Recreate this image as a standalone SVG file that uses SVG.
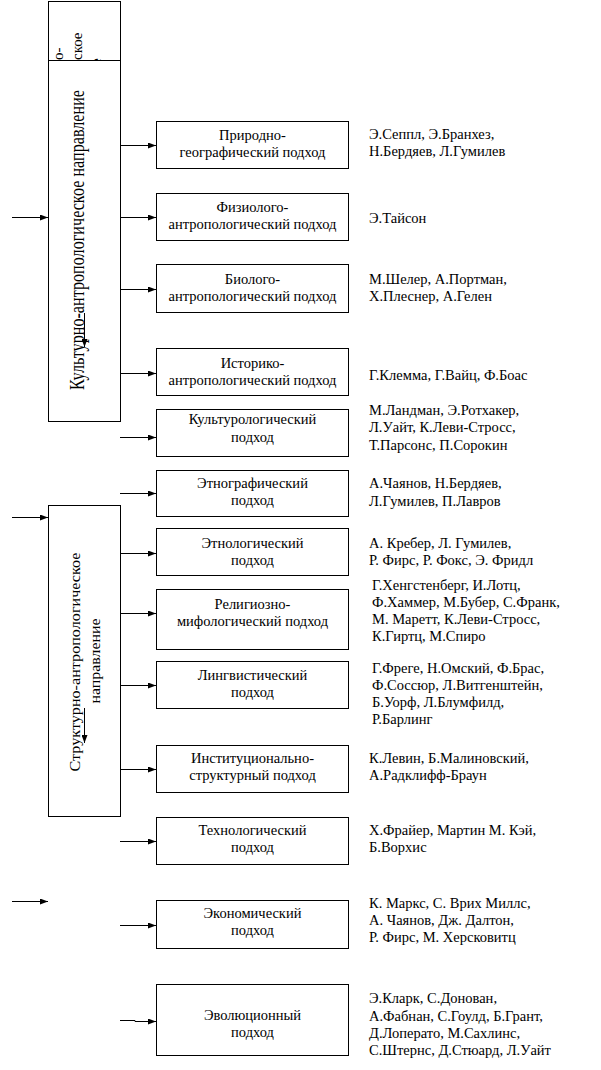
<svg xmlns="http://www.w3.org/2000/svg" width="601" height="1070" viewBox="0 0 601 1070">
<style>
.box{fill:#fff;stroke:#000;stroke-width:1}
.lbl{font-family:"Liberation Serif","DejaVu Serif",serif;font-size:14.5px;fill:#000;text-anchor:middle}
.au{font-family:"Liberation Serif","DejaVu Serif",serif;font-size:14.5px;fill:#000}
.vt{font-family:"Liberation Serif","DejaVu Serif",serif;fill:#000}
.con{stroke:#000;stroke-width:1;fill:none;marker-end:url(#ah)}
</style>
<defs>
<marker id="ah" markerWidth="8" markerHeight="6" refX="8" refY="3" orient="auto" markerUnits="userSpaceOnUse">
<path d="M0,0 L8,3 L0,6 z" fill="#000"/>
</marker>
<clipPath id="topclip"><rect x="49" y="0" width="71" height="60"/></clipPath>
</defs>
<rect width="601" height="1070" fill="#fff"/>

<g id="dir-cultural">
<rect class="box" x="48.5" y="1.5" width="72" height="420"/>
<line x1="48.5" y1="60.5" x2="120.5" y2="60.5" stroke="#000"/>
<g clip-path="url(#topclip)">
<text class="vt" font-size="15" transform="translate(63,60) rotate(-90)">о-</text>
<text class="vt" font-size="15" transform="translate(82,60) rotate(-90)">ское</text>
<text class="vt" font-size="15" transform="translate(101,65) rotate(-90)">е</text>
</g>
<text class="vt" font-size="20" text-anchor="middle" textLength="300" lengthAdjust="spacingAndGlyphs" transform="translate(83.5,240) rotate(-90)">Культурно-антропологическое направление</text>
</g>

<g id="dir-structural">
<rect class="box" x="48.5" y="505.5" width="72" height="311"/>
<text class="vt" font-size="15" text-anchor="middle" textLength="219" lengthAdjust="spacingAndGlyphs" transform="translate(80,662) rotate(-90)">Структурно-антропологическое</text>
<text class="vt" font-size="15" text-anchor="middle" textLength="85" lengthAdjust="spacingAndGlyphs" transform="translate(100,661) rotate(-90)">направление</text>
</g>

<g id="connectors">
<line class="con" x1="12" y1="217.5" x2="48" y2="217.5"/>
<line class="con" x1="12" y1="517.5" x2="48" y2="517.5"/>
<line class="con" x1="12" y1="901.5" x2="48" y2="901.5"/>
<line class="con" x1="121" y1="145.5" x2="156" y2="145.5"/>
<line class="con" x1="121" y1="217.5" x2="156" y2="217.5"/>
<line class="con" x1="121" y1="289.5" x2="156" y2="289.5"/>
<line class="con" x1="121" y1="373.5" x2="156" y2="373.5"/>
<line class="con" x1="120" y1="437.5" x2="156" y2="437.5"/>
<line class="con" x1="120" y1="493.5" x2="156" y2="493.5"/>
<line class="con" x1="121" y1="553.5" x2="156" y2="553.5"/>
<line class="con" x1="121" y1="613.5" x2="156" y2="613.5"/>
<line class="con" x1="121" y1="685.5" x2="156" y2="685.5"/>
<line class="con" x1="121" y1="769.5" x2="156" y2="769.5"/>
<line class="con" x1="120" y1="841.5" x2="156" y2="841.5"/>
<line class="con" x1="120" y1="925.5" x2="156" y2="925.5"/>
<polyline class="con" points="120,1020.5 135,1020.5 135,1021.5 156,1021.5"/>
<line class="con" x1="84.5" y1="313" x2="84.5" y2="347"/>
<line class="con" x1="84.5" y1="708" x2="84.5" y2="743"/>
</g>

<g id="n-prirodno">
<rect class="box" x="156.5" y="121.5" width="192" height="47"/>
<text class="lbl" x="252.5" y="140">Природно-</text>
<text class="lbl" x="252.5" y="157">географический подход</text>
<text class="au" x="369" y="139">Э.Сеппл, Э.Бранхез,</text>
<text class="au" x="369" y="156">Н.Бердяев, Л.Гумилев</text>
</g>
<g id="n-fiziologo">
<rect class="box" x="156.5" y="193.5" width="192" height="47"/>
<text class="lbl" x="252.5" y="212">Физиолого-</text>
<text class="lbl" x="252.5" y="229">антропологический подход</text>
<text class="au" x="369" y="223">Э.Тайсон</text>
</g>
<g id="n-biologo">
<rect class="box" x="156.5" y="264.5" width="192" height="48"/>
<text class="lbl" x="252.5" y="284">Биолого-</text>
<text class="lbl" x="252.5" y="301">антропологический подход</text>
<text class="au" x="369" y="284">М.Шелер, А.Портман,</text>
<text class="au" x="369" y="301">Х.Плеснер, А.Гелен</text>
</g>
<g id="n-istoriko">
<rect class="box" x="156.5" y="348.5" width="192" height="47"/>
<text class="lbl" x="252.5" y="368">Историко-</text>
<text class="lbl" x="252.5" y="385">антропологический подход</text>
<text class="au" x="369" y="380">Г.Клемма, Г.Вайц, Ф.Боас</text>
</g>
<g id="n-kulturolog">
<rect class="box" x="156.5" y="409.5" width="192" height="47"/>
<text class="lbl" x="252.5" y="424">Культурологический</text>
<text class="lbl" x="252.5" y="442">подход</text>
<text class="au" x="369" y="415">М.Ландман, Э.Ротхакер,</text>
<text class="au" x="369" y="432">Л.Уайт, К.Леви-Стросс,</text>
<text class="au" x="369" y="450">Т.Парсонс, П.Сорокин</text>
</g>
<g id="n-etnograf">
<rect class="box" x="156.5" y="470.5" width="192" height="46"/>
<text class="lbl" x="252.5" y="488">Этнографический</text>
<text class="lbl" x="252.5" y="505">подход</text>
<text class="au" x="369" y="488">А.Чаянов, Н.Бердяев,</text>
<text class="au" x="369" y="506">Л.Гумилев, П.Лавров</text>
</g>
<g id="n-etnolog">
<rect class="box" x="156.5" y="528.5" width="192" height="47"/>
<text class="lbl" x="252.5" y="548">Этнологический</text>
<text class="lbl" x="252.5" y="565">подход</text>
<text class="au" x="369" y="548">А. Кребер, Л. Гумилев,</text>
<text class="au" x="369" y="565">Р. Фирс, Р. Фокс, Э. Фридл</text>
</g>
<g id="n-religio">
<rect class="box" x="156.5" y="589.5" width="192" height="60"/>
<text class="lbl" x="252.5" y="609">Религиозно-</text>
<text class="lbl" x="252.5" y="626">мифологический подход</text>
<text class="au" x="372" y="590">Г.Хенгстенберг, И.Лотц,</text>
<text class="au" x="372" y="607">Ф.Хаммер, М.Бубер, С.Франк,</text>
<text class="au" x="372" y="624">М.  Маретт, К.Леви-Стросс,</text>
<text class="au" x="372" y="641">К.Гиртц, М.Спиро</text>
</g>
<g id="n-lingvist">
<rect class="box" x="156.5" y="661.5" width="192" height="47"/>
<text class="lbl" x="252.5" y="680">Лингвистический</text>
<text class="lbl" x="252.5" y="697">подход</text>
<text class="au" x="372" y="673">Г.Фреге, Н.Омский, Ф.Брас,</text>
<text class="au" x="372" y="690">Ф.Соссюр, Л.Витгенштейн,</text>
<text class="au" x="372" y="707">Б.Уорф, Л.Блумфилд,</text>
<text class="au" x="372" y="724">Р.Барлинг</text>
</g>
<g id="n-institut">
<rect class="box" x="156.5" y="745.5" width="192" height="47"/>
<text class="lbl" x="252.5" y="763">Институционально-</text>
<text class="lbl" x="252.5" y="780">структурный подход</text>
<text class="au" x="369" y="763">К.Левин, Б.Малиновский,</text>
<text class="au" x="369" y="780">А.Радклифф-Браун</text>
</g>
<g id="n-tehnolog">
<rect class="box" x="156.5" y="817.5" width="192" height="47"/>
<text class="lbl" x="252.5" y="835">Технологический</text>
<text class="lbl" x="252.5" y="852">подход</text>
<text class="au" x="369" y="835">Х.Фрайер, Мартин М. Кэй,</text>
<text class="au" x="369" y="852">Б.Ворхис</text>
</g>
<g id="n-ekonom">
<rect class="box" x="156.5" y="900.5" width="192" height="48"/>
<text class="lbl" x="252.5" y="918">Экономический</text>
<text class="lbl" x="252.5" y="935">подход</text>
<text class="au" x="369" y="908">К. Маркс, С. Врих Миллс,</text>
<text class="au" x="369" y="925">А. Чаянов, Дж. Далтон,</text>
<text class="au" x="369" y="942">Р. Фирс, М. Херсковитц</text>
</g>
<g id="n-evolut">
<rect class="box" x="156.5" y="984.5" width="192" height="71"/>
<text class="lbl" x="252.5" y="1020">Эволюционный</text>
<text class="lbl" x="252.5" y="1037">подход</text>
<text class="au" x="369" y="1003">Э.Кларк, С.Донован,</text>
<text class="au" x="369" y="1021">А.Фабнан, С.Гоулд, Б.Грант,</text>
<text class="au" x="369" y="1038">Д.Лоперато, М.Сахлинс,</text>
<text class="au" x="369" y="1055">С.Штернс, Д.Стюард, Л.Уайт</text>
</g>
</svg>
